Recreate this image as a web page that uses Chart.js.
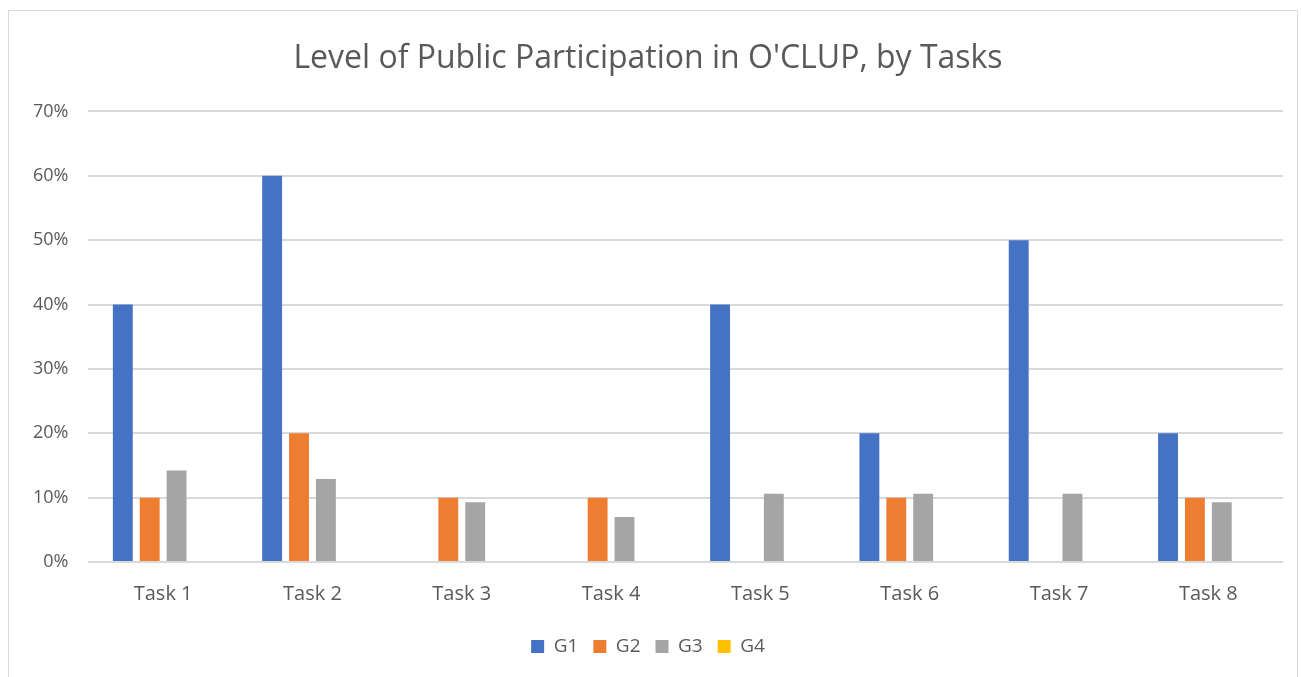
<!DOCTYPE html>
<html>
<head>
<meta charset="utf-8">
<script src="https://cdn.jsdelivr.net/npm/chart.js@4/dist/chart.umd.min.js"></script>
<style>
  html,body{margin:0;padding:0;background:#fff;overflow:hidden;}
  #frame{position:absolute;left:8px;top:10px;width:1290px;height:700px;border:1px solid #d9d9d9;box-sizing:border-box;}
  #wrap{position:absolute;left:0;top:0;width:1301px;height:677px;}
</style>
</head>
<body>
<div id="frame"></div>
<div id="wrap"><canvas id="chart"></canvas></div>
<script>
// data (percent)
const tasks = ['Task 1','Task 2','Task 3','Task 4','Task 5','Task 6','Task 7','Task 8'];
const g1 = [40, 60, 0, 0, 40, 20, 50, 20];
const g2 = [10, 20, 10, 10, 0, 10, 0, 10];
const g3 = [14.2, 12.9, 9.3, 7.0, 10.6, 10.6, 10.6, 9.3];
const g4 = [0, 0, 0, 0, 0, 0, 0, 0];
const yTicks = [0, 10, 20, 30, 40, 50, 60, 70];

const FONT = '"Open Sans", Lato, sans-serif';
const TXT = '#595959';

function ds(label, data, color){
  return {label, data, backgroundColor: color, borderWidth: 0,
    barPercentage: 0.74, categoryPercentage: 0.72};
}

new Chart(document.getElementById('chart'), {
  type: 'bar',
  data: {
    labels: tasks,
    datasets: [
      ds('G1', g1, '#4472C4'),
      ds('G2', g2, '#ED7D31'),
      ds('G3', g3, '#A5A5A5'),
      ds('G4', g4, '#FFC000')
    ]
  },
  options: {
    responsive: true,
    maintainAspectRatio: false,
    animation: false,
    layout: {padding: {left: 13, right: 18, top: 0, bottom: 11}},
    plugins: {
      title: {display: true, text: "Level of Public Participation in O'CLUP, by Tasks",
        color: TXT, font: {family: FONT, size: 32, weight: 'normal'}, padding: {top: 40, bottom: 33}},
      legend: {position: 'bottom', labels: {color: TXT, font: {family: FONT, size: 19},
        boxWidth: 13, boxHeight: 13, padding: 15}},
      tooltip: {enabled: false}
    },
    scales: {
      x: {
        grid: {display: false},
        border: {display: false},
        ticks: {color: TXT, font: {family: FONT, size: 20}, padding: 12},
        afterFit: axis => { axis.height += 4; }
      },
      y: {
        min: 0, max: 70,
        afterBuildTicks: axis => { axis.ticks = yTicks.map(v => ({value: v})); },
        grid: {color: '#d9d9d9', lineWidth: 2, drawTicks: false},
        border: {display: false},
        ticks: {color: TXT, font: {family: FONT, size: 18}, padding: 20, callback: v => v + '%'}
      }
    }
  }
});
</script>
</body>
</html>
